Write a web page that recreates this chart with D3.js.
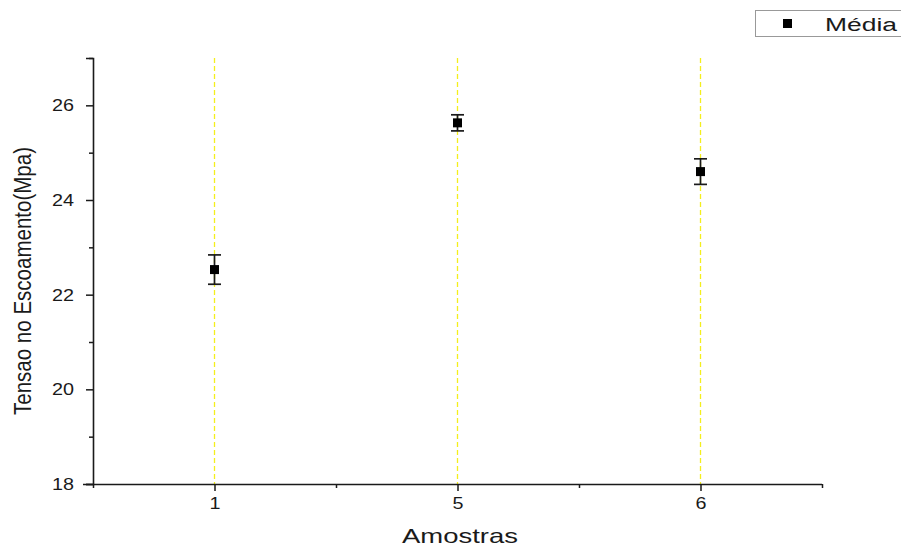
<!DOCTYPE html>
<html>
<head>
<meta charset="utf-8">
<script src="https://cdn.jsdelivr.net/npm/d3@7"></script>
<style>
  html, body { margin: 0; padding: 0; background: #fff; }
  svg { display: block; font-family: "Liberation Sans", Arial, sans-serif; }
</style>
</head>
<body>
<svg id="chart" width="901" height="548"></svg>
<script>
// Sample labels and measured yield stress (mean ± deviation)
const samples = ["1", "5", "6"];
const means = [22.53, 25.63, 24.60];
const errors = [0.31, 0.17, 0.27];
const yMajorTicks = [18, 20, 22, 24, 26];
const yMinorTicks = [19, 21, 23, 25, 27];
const seriesName = "Média";

const svg = d3.select("#chart");
const margin = { left: 93, right: 79, top: 58, bottom: 64 };
const W = 901, H = 548;
const ink = "#1a1a1a";

const x = d3.scaleLinear().domain([0.5, 3.5]).range([margin.left, W - margin.right]);
const y = d3.scaleLinear().domain([18, 27]).range([H - margin.bottom, margin.top]);

const data = samples.map((s, i) => ({ label: s, pos: i + 1, mean: means[i], err: errors[i] }));

// Dashed guide lines at each sample position
svg.append("g").selectAll("line").data(data).join("line")
  .attr("x1", d => x(d.pos)).attr("x2", d => x(d.pos))
  .attr("y1", y(27)).attr("y2", y(18))
  .attr("stroke", "#f4ef1c").attr("stroke-width", 1.3)
  .attr("stroke-dasharray", "5,3");

// Y axis: labelled major ticks, unlabelled minor ticks
const yAxisMajor = d3.axisLeft(y).tickValues(yMajorTicks).tickSize(7).tickPadding(12).tickFormat(d3.format("d"));
const yAxisMinor = d3.axisLeft(y).tickValues(yMinorTicks).tickSize(4).tickFormat("");
const gy = svg.append("g").attr("transform", `translate(${margin.left},0)`).call(yAxisMajor);
svg.append("g").attr("transform", `translate(${margin.left},0)`).call(yAxisMinor).select(".domain").remove();

// X axis: category labels at 1..3, minor ticks between them
const xAxisMajor = d3.axisBottom(x).tickValues(data.map(d => d.pos)).tickSize(7).tickPadding(6)
  .tickFormat((d, i) => samples[i]);
const xAxisMinor = d3.axisBottom(x).tickValues([0.5, 1.5, 2.5, 3.5]).tickSize(4).tickFormat("");
const gx = svg.append("g").attr("transform", `translate(0,${y(18)})`).call(xAxisMajor);
svg.append("g").attr("transform", `translate(0,${y(18)})`).call(xAxisMinor).select(".domain").remove();

svg.selectAll(".domain").attr("stroke", ink).attr("stroke-width", 1.6);
svg.selectAll(".tick line").attr("stroke", ink).attr("stroke-width", 1.5);
svg.selectAll(".tick text").attr("font-size", 17).attr("fill", ink)
  .attr("font-family", "Liberation Sans, Arial, sans-serif")
  .attr("lengthAdjust", "spacingAndGlyphs")
  .attr("textLength", function () { return this.textContent.length * 11; });
gx.select(".domain").attr("d", `M${x(0.5) - 10},0.5H${x(3.5)}`);

// Error bars
const eb = svg.append("g").selectAll("g").data(data).join("g");
eb.append("line")
  .attr("x1", d => x(d.pos)).attr("x2", d => x(d.pos))
  .attr("y1", d => y(d.mean + d.err)).attr("y2", d => y(d.mean - d.err))
  .attr("stroke", ink).attr("stroke-width", 1.7);
[1, -1].forEach(s => {
  eb.append("line")
    .attr("x1", d => x(d.pos) - 6.5).attr("x2", d => x(d.pos) + 6.5)
    .attr("y1", d => y(d.mean + s * d.err)).attr("y2", d => y(d.mean + s * d.err))
    .attr("stroke", ink).attr("stroke-width", 1.7);
});

// Mean markers
svg.append("g").selectAll("rect").data(data).join("rect")
  .attr("x", d => x(d.pos) - 4.5).attr("y", d => y(d.mean) - 4.5)
  .attr("width", 9).attr("height", 9).attr("fill", "#000");

// Axis titles
svg.append("text")
  .attr("x", 460).attr("y", 543)
  .attr("text-anchor", "middle").attr("font-size", 21).attr("fill", ink)
  .attr("textLength", 116).attr("lengthAdjust", "spacingAndGlyphs")
  .text("Amostras");
svg.append("text")
  .attr("transform", "translate(31,281) rotate(-90)")
  .attr("text-anchor", "middle").attr("font-size", 23).attr("fill", ink)
  .attr("textLength", 268).attr("lengthAdjust", "spacingAndGlyphs")
  .text("Tensao no Escoamento(Mpa)");

// Legend
const lg = svg.append("g");
lg.append("rect").attr("x", 755.5).attr("y", 10.5).attr("width", 150).attr("height", 26)
  .attr("fill", "#fff").attr("stroke", "#999").attr("stroke-width", 1);
lg.append("rect").attr("x", 783).attr("y", 19).attr("width", 9).attr("height", 9).attr("fill", "#000");
lg.append("text").attr("x", 825).attr("y", 31).attr("font-size", 18).attr("fill", ink)
  .attr("textLength", 72).attr("lengthAdjust", "spacingAndGlyphs")
  .text(seriesName);
</script>
</body>
</html>
